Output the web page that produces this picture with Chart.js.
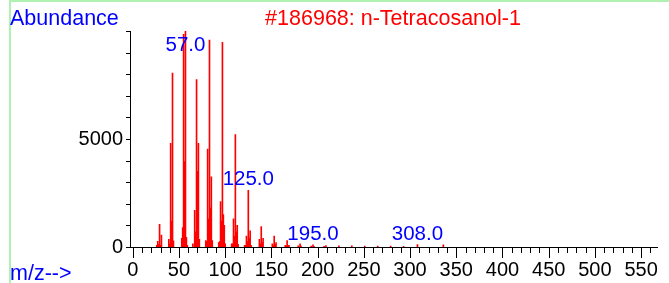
<!DOCTYPE html>
<html>
<head>
<meta charset="utf-8">
<script src="https://cdn.jsdelivr.net/npm/chart.js@4"></script>
<style>
  body { margin: 0; background: #fff; }
  #wrap { width: 669px; height: 283px; position: relative; }
</style>
</head>
<body>
<div id="wrap"><canvas id="ms"></canvas></div>
<script>
const title = '#186968: n-Tetracosanol-1';

// m/z values and their abundances
const mz = [
  26, 27, 28, 29, 30, 31,
  39, 40, 41, 42, 43, 44,
  53, 54, 55, 56, 57, 58, 59,
  65, 67, 68, 69, 70, 71, 72,
  79, 80, 81, 82, 83, 84, 85, 86,
  93, 94, 95, 96, 97, 98, 99, 100,
  107, 108, 109, 110, 111, 112, 113, 114,
  121, 122, 123, 124, 125, 126, 127, 128,
  137, 138, 139, 140, 141,
  151, 152, 153, 154, 155,
  165, 166, 167, 168, 169,
  179, 181, 182, 193, 195, 196,
  207, 209, 223, 237, 251, 265, 279, 293, 308, 336
];
const abundance = [
  80, 260, 120, 1050, 80, 550,
  360, 150, 4800, 1200, 8050, 280,
  400, 900, 9850, 3950, 10000, 450, 80,
  150, 1700, 700, 7750, 3500, 4800, 350,
  300, 250, 4530, 1300, 9580, 1800, 3250, 300,
  200, 250, 2100, 1200, 9480, 1500, 1000, 150,
  150, 150, 1300, 500, 5200, 700, 1000, 120,
  80, 80, 500, 250, 2620, 400, 750, 80,
  350, 150, 940, 200, 400,
  150, 60, 500, 120, 200,
  80, 50, 300, 60, 80,
  50, 150, 40, 40, 100, 30,
  30, 60, 55, 50, 45, 40, 40, 35, 110, 100
];

// peaks that carry a label
const labelledPeaks = [57, 125, 195, 308];

const xTickValues = [0, 50, 100, 150, 200, 250, 300, 350, 400, 450, 500, 550];
const yTickValues = [0, 5000];

const FONT = 'Arial, "Liberation Sans", sans-serif';

const decorations = {
  id: 'decorations',
  beforeDraw(chart) {
    const ctx = chart.ctx;
    ctx.save();
    ctx.strokeStyle = '#b0f0b0';
    ctx.lineWidth = 2;
    ctx.beginPath();
    ctx.moveTo(10, 1);
    ctx.lineTo(chart.width, 1);
    ctx.moveTo(10, 0);
    ctx.lineTo(10, chart.height);
    ctx.stroke();
    ctx.restore();
  },
  afterDraw(chart) {
    const ctx = chart.ctx;
    const xs = chart.scales.x;
    const ys = chart.scales.y;
    const area = chart.chartArea;
    ctx.save();

    // tick marks
    ctx.strokeStyle = '#000';
    ctx.lineWidth = 1;
    ctx.beginPath();
    for (let v = 0; v <= xs.max; v += 10) {
      const px = Math.round(xs.getPixelForValue(v)) + 0.5;
      const len = v % 50 === 0 ? 11 : 6;
      ctx.moveTo(px, area.bottom);
      ctx.lineTo(px, area.bottom + len);
    }
    for (let v = 0; v <= ys.max; v += 1000) {
      const py = Math.round(ys.getPixelForValue(v)) + 0.5;
      ctx.moveTo(area.left - 4, py);
      ctx.lineTo(area.left, py);
    }
    ctx.stroke();

    // texts
    ctx.font = '21.5px ' + FONT;
    ctx.textBaseline = 'alphabetic';
    ctx.fillStyle = '#0000ff';
    ctx.textAlign = 'left';
    ctx.fillText('Abundance', 10, 25);
    ctx.fillText('m/z-->', 10, 280);
    ctx.fillStyle = '#ff0000';
    ctx.textAlign = 'center';
    ctx.fillText(title, 393, 25);

    // peak labels
    ctx.font = '20.5px ' + FONT;
    ctx.fillStyle = '#0000ff';
    labelledPeaks.forEach(m => {
      const a = abundance[mz.indexOf(m)];
      const px = xs.getPixelForValue(m);
      const py = Math.max(ys.getPixelForValue(a) - 5, area.top + 20);
      ctx.fillText(m.toFixed(1), px, py);
    });
    ctx.restore();
  }
};

new Chart(document.getElementById('ms'), {
  type: 'bar',
  data: {
    datasets: [{
      data: mz.map((m, i) => ({ x: m, y: abundance[i] })),
      backgroundColor: '#ff0000',
      barThickness: 1,
      grouped: false
    }]
  },
  options: {
    responsive: true,
    maintainAspectRatio: false,
    animation: false,
    layout: { padding: { top: 31, right: 6, left: 0, bottom: 0 } },
    plugins: {
      legend: { display: false },
      tooltip: { enabled: false }
    },
    scales: {
      x: {
        type: 'linear',
        offset: false,
        min: -3,
        max: 568,
        grid: { display: false, drawTicks: false, offset: false },
        border: { display: true, color: '#000', width: 1 },
        afterBuildTicks: s => { s.ticks = xTickValues.map(v => ({ value: v })); },
        afterFit: s => { s.height = 36; },
        ticks: {
          padding: 11,
          maxRotation: 0,
          autoSkip: false,
          color: '#000',
          font: { family: FONT, size: 20 }
        }
      },
      y: {
        min: 0,
        max: 10000,
        grid: { display: false, drawTicks: false },
        border: { display: true, color: '#000', width: 1 },
        afterBuildTicks: s => { s.ticks = yTickValues.map(v => ({ value: v })); },
        afterFit: s => { s.width = 130; },
        ticks: {
          padding: 7,
          color: '#000',
          font: { family: FONT, size: 20 },
          callback: v => String(v)
        }
      }
    }
  },
  plugins: [decorations]
});
</script>
</body>
</html>
